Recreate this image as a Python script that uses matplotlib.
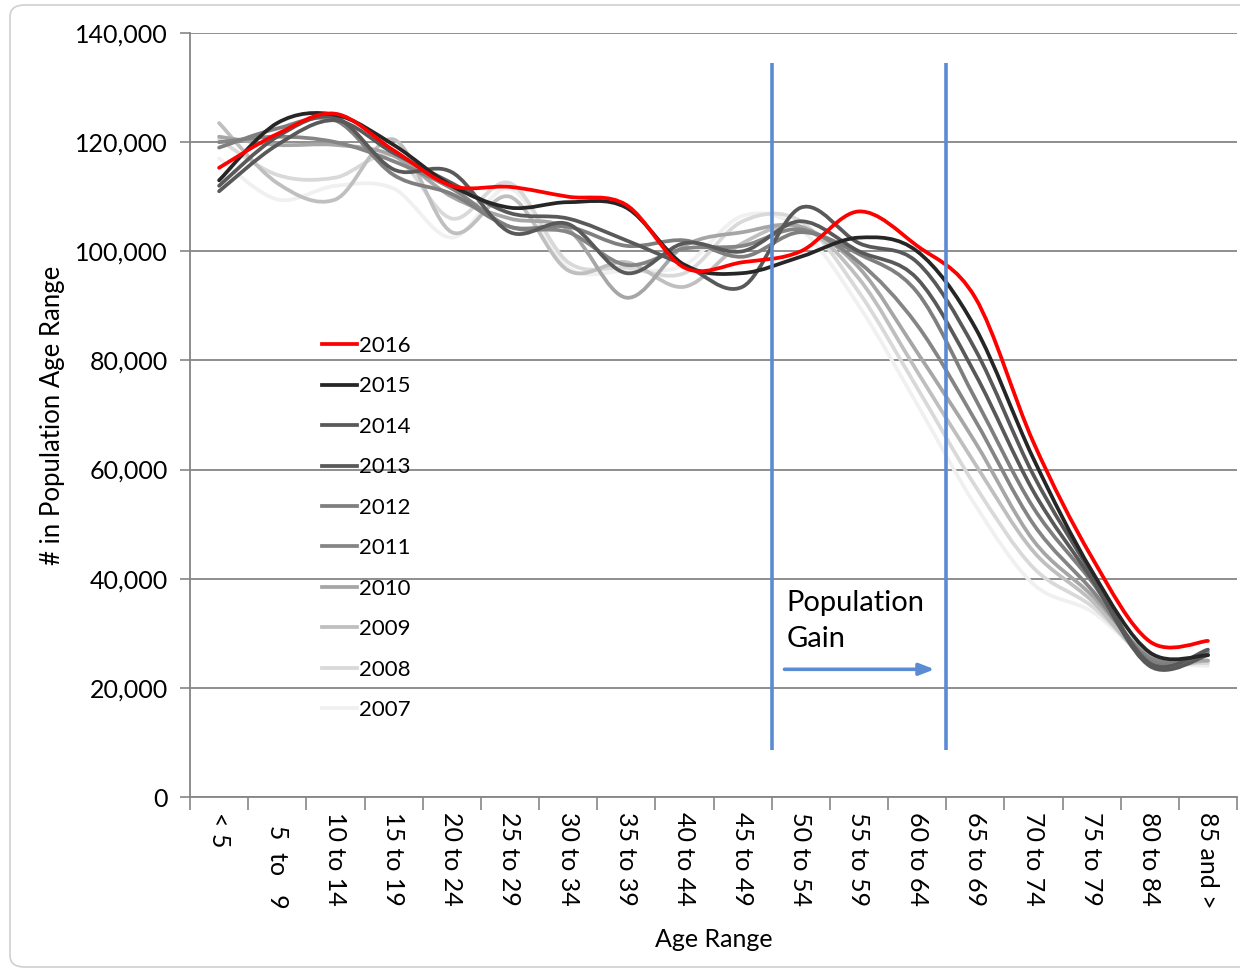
import matplotlib
matplotlib.use("Agg")
import matplotlib.pyplot as plt
from matplotlib.path import Path
from matplotlib.patches import PathPatch, FancyBboxPatch
from matplotlib.lines import Line2D
from matplotlib.ticker import FuncFormatter, FixedLocator

plt.rcParams["font.family"] = ["Lato", "DejaVu Sans"]

age_ranges = ["< 5", "  5  to   9", "10 to 14", "15 to 19", "20 to 24", "25 to 29",
              "30 to 34", "35 to 39", "40 to 44", "45 to 49", "50 to 54", "55 to 59",
              "60 to 64", "65 to 69", "70 to 74", "75 to 79", "80 to 84", "85 and >"]

years = ["2016", "2015", "2014", "2013", "2012", "2011", "2010", "2009", "2008", "2007"]
year_colors = ["#ff0000", "#262626", "#595959", "#595959", "#7f7f7f",
               "#858585", "#a6a6a6", "#bfbfbf", "#d9d9d9", "#f0f0f0"]

# thousands
pop_2016 = [115.3, 121.5, 125.2, 118.5, 112.0, 111.8, 110.0, 108.5, 97.0, 98.0, 100.0, 107.3, 101.0, 91.5, 65.0, 44.0, 28.5, 28.6]
pop_2015 = [113.0, 123.5, 125.0, 119.5, 112.0, 108.0, 109.0, 108.0, 97.5, 96.0, 99.0, 102.5, 100.0, 86.0, 62.0, 41.5, 26.5, 26.0]
pop_2014 = [111.0, 119.5, 124.0, 118.0, 112.5, 107.0, 106.0, 102.0, 97.5, 93.5, 108.0, 101.5, 98.0, 82.0, 59.0, 41.0, 24.5, 27.0]
pop_2013 = [112.0, 121.0, 124.5, 115.0, 114.5, 103.5, 105.0, 96.0, 101.5, 100.0, 105.5, 100.0, 95.0, 77.5, 56.0, 40.0, 24.0, 26.0]
pop_2012 = [119.0, 122.5, 124.0, 114.0, 110.5, 104.5, 104.5, 101.0, 102.0, 99.0, 103.5, 99.5, 92.5, 73.0, 53.0, 39.5, 25.0, 26.5]
pop_2011 = [120.0, 121.0, 120.0, 116.5, 111.5, 104.5, 103.5, 97.5, 100.5, 101.0, 104.0, 98.0, 86.5, 69.0, 50.0, 38.0, 25.5, 26.0]
pop_2010 = [121.0, 119.5, 119.5, 117.5, 110.0, 106.0, 104.0, 91.5, 101.0, 103.5, 104.5, 97.0, 81.5, 65.0, 47.0, 37.0, 26.0, 25.0]
pop_2009 = [123.5, 112.5, 109.5, 120.5, 103.5, 110.0, 96.5, 98.0, 93.5, 101.5, 104.5, 95.0, 78.0, 61.0, 45.0, 36.0, 25.0, 25.0]
pop_2008 = [120.5, 114.0, 113.5, 117.5, 106.0, 112.5, 98.0, 97.0, 96.0, 105.5, 105.5, 92.5, 75.0, 57.0, 42.0, 35.0, 25.5, 24.5]
pop_2007 = [117.0, 109.5, 112.0, 111.5, 102.5, 111.5, 97.0, 96.5, 97.5, 106.5, 104.0, 90.0, 72.0, 53.5, 39.0, 34.0, 25.5, 24.0]

series = [pop_2016, pop_2015, pop_2014, pop_2013, pop_2012,
          pop_2011, pop_2010, pop_2009, pop_2008, pop_2007]


def smooth_path(xs, ys):
    # Excel-style smoothed line: cubic bezier through every point
    pts = list(zip(xs, ys))
    verts = [pts[0]]
    codes = [Path.MOVETO]
    n = len(pts)
    for i in range(n - 1):
        p0 = pts[i - 1] if i > 0 else pts[i]
        p1 = pts[i]
        p2 = pts[i + 1]
        p3 = pts[i + 2] if i + 2 < n else pts[i + 1]
        c1 = (p1[0] + (p2[0] - p0[0]) / 6, p1[1] + (p2[1] - p0[1]) / 6)
        c2 = (p2[0] - (p3[0] - p1[0]) / 6, p2[1] - (p3[1] - p1[1]) / 6)
        verts += [c1, c2, p2]
        codes += [Path.CURVE4] * 3
    return Path(verts, codes)


fig = plt.figure(figsize=(12.4, 9.72), dpi=100)
fig.patches.append(FancyBboxPatch((10 / 1240, 5 / 972), 1.2, 962 / 972,
                                  boxstyle="round,pad=0,rounding_size=0.012",
                                  transform=fig.transFigure, facecolor="white",
                                  edgecolor="#d0d0d0", linewidth=1.2, zorder=-10))
ax = fig.add_axes([190 / 1240, (972 - 797) / 972, (1237 - 190) / 1240, (797 - 33) / 972])
ax.set_facecolor("none")

xs = list(range(len(age_ranges)))
handles = []
for year, color, vals in reversed(list(zip(years, year_colors, series))):
    ys = [v * 1000 for v in vals]
    ax.add_patch(PathPatch(smooth_path(xs, ys), fill=False, edgecolor=color,
                           linewidth=2.7, capstyle="round", joinstyle="round", zorder=3))
for year, color in zip(years, year_colors):
    handles.append(Line2D([0], [0], color=color, linewidth=2.7))

ax.set_xlim(-0.5, len(age_ranges) - 0.5)
ax.set_ylim(0, 140000)
ax.yaxis.set_major_locator(FixedLocator(range(0, 140001, 20000)))
ax.yaxis.set_major_formatter(FuncFormatter(lambda v, p: f"{int(v):,}"))
ax.set_xticks(xs)
ax.set_xticklabels(age_ranges, rotation=-90, va="top", ha="center", fontsize=18)
ax.set_xticks([i - 0.5 for i in range(len(age_ranges) + 1)], minor=True)
ax.tick_params(axis="x", which="major", length=0, pad=11)
ax.tick_params(axis="x", which="minor", length=9, color="#868686", width=1.2)
ax.tick_params(axis="y", length=7, color="#868686", width=1.2, labelsize=18, pad=9)

ax.grid(axis="y", color="#868686", linewidth=1.3, zorder=0)
ax.set_axisbelow(True)
for side in ["top", "right"]:
    ax.spines[side].set_visible(False)
for side in ["left", "bottom"]:
    ax.spines[side].set_color("#868686")
    ax.spines[side].set_linewidth(1.3)

ax.set_xlabel("Age Range", fontsize=18)
ax.xaxis.set_label_coords(0.5, -0.172)
ax.set_ylabel("# in Population Age Range", fontsize=18.5)
ax.yaxis.set_label_coords(-0.119, 0.5)

# highlight band
blue = "#5B8BD2"
ax.vlines([9.5, 12.5], 8600, 134500, color=blue, linewidth=2.6, zorder=4)
ax.annotate("", xy=(12.3, 23400), xytext=(9.72, 23400),
            arrowprops=dict(arrowstyle="-|>,head_length=0.9,head_width=0.35",
                            color=blue, linewidth=2.6, shrinkA=0, shrinkB=0), zorder=4)
ax.text(9.76, 37900, "Population\nGain", fontsize=21, va="top", ha="left",
        linespacing=1.45, color="black")

ax.legend(handles, years, loc="upper left", bbox_to_anchor=(0.115, 0.618),
          frameon=False, fontsize=16, handlelength=1.6, handletextpad=0.1,
          labelspacing=0.92, borderpad=0)

fig.savefig("out.png", dpi=100)
